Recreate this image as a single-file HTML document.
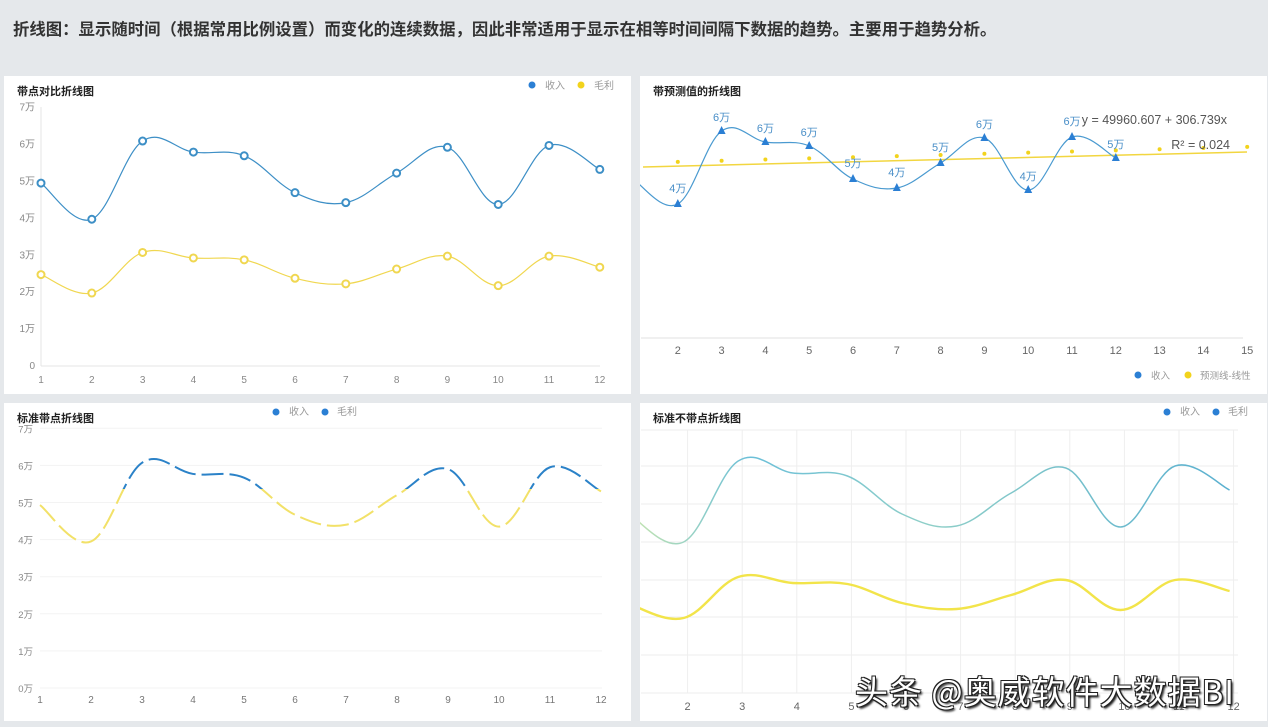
<!DOCTYPE html>
<html><head><meta charset="utf-8"><style>
body{margin:0;width:1268px;height:727px;background:#e5e8eb;overflow:hidden;font-family:"Liberation Sans","Noto Sans CJK SC",sans-serif;position:relative}
.h{position:absolute;left:13px;top:16px;font-size:16.4px;font-weight:bold;color:#333;white-space:nowrap;font-family:"Liberation Sans","Noto Sans CJK SC",sans-serif}
svg{position:absolute;left:0;top:0}
.wm{position:absolute;left:855px;top:666px;font-size:33px;letter-spacing:1px;color:#fff;white-space:nowrap;font-family:"Noto Sans CJK SC",sans-serif;text-shadow:1px 1px 0 #222,-1px -1px 0 #222,1px -1px 0 #222,-1px 1px 0 #222,2px 2px 2px #000}
</style></head><body>
<div class="h">折线图：显示随时间（根据常用比例设置）而变化的连续数据，因此非常适用于显示在相等时间间隔下数据的趋势。主要用于趋势分析。</div>
<svg id="s" width="1268" height="727" font-family="Liberation Sans, Noto Sans CJK SC, sans-serif"></svg>
<div class="wm">头条 @奥威软件大数据BI</div>
<script>
const s=document.getElementById('s');let h='';
function smooth(p){let d='M'+p[0][0]+','+p[0][1];for(let i=0;i<p.length-1;i++){const p0=p[i-1]||p[i],p1=p[i],p2=p[i+1],p3=p[i+2]||p2;const t=0.18;d+=` C${p1[0]+(p2[0]-p0[0])*t},${p1[1]+(p2[1]-p0[1])*t} ${p2[0]-(p3[0]-p1[0])*t},${p2[1]-(p3[1]-p1[1])*t} ${p2[0]},${p2[1]}`;}return d;}
function txt(x,y,t,sz,col,anc,w){h+=`<text x="${x}" y="${y}" font-size="${sz}" fill="${col}" text-anchor="${anc||'start'}" ${w?'font-weight="bold"':''}>${t}</text>`;}
[[4,76],[640,76],[4,403],[640,403]].forEach(([x,y])=>h+=`<rect x="${x}" y="${y}" width="627" height="318" fill="#fff"/>`);
const rev=[4.93,3.95,6.07,5.77,5.67,4.67,4.4,5.2,5.9,4.35,5.95,5.3];
const pro=[2.45,1.95,3.05,2.9,2.85,2.35,2.2,2.6,2.95,2.15,2.95,2.65];
txt(17,95,'带点对比折线图',11,'#222','start',1);
h+=`<circle cx="532" cy="85" r="3.5" fill="#2b7fd4"/>`;txt(545,89,'收入',10,'#999');
h+=`<circle cx="581" cy="85" r="3.5" fill="#f2d31c"/>`;txt(594,89,'毛利',10,'#999');
h+=`<line x1="41" y1="107" x2="41" y2="366" stroke="#e4e4e4"/><line x1="41" y1="366" x2="600" y2="366" stroke="#e4e4e4"/>`;
for(let i=0;i<=7;i++)txt(35,369-i*36.9,i?i+'万':'0',10,'#888','end');
let X1=i=>41+i*50.8,Y1=v=>365-v*36.9;
for(let i=0;i<12;i++)txt(X1(i),383,i+1,10,'#888','middle');
[[rev,'#3d8fc6'],[pro,'#f0d750']].forEach(([d,c])=>{const p=d.map((v,i)=>[X1(i),Y1(v)]);h+=`<path d="${smooth(p)}" fill="none" stroke="${c}" stroke-width="1.2"/>`;p.forEach(q=>h+=`<circle cx="${q[0]}" cy="${q[1]}" r="3.5" fill="#fff" stroke="${c}" stroke-width="2"/>`);});
txt(653,95,'带预测值的折线图',11,'#222','start',1);
let X2=i=>634+i*43.8;
const r2=[180,204,131,142,146,179,188,163,138,190,137,158];
h+=`<defs><clipPath id="c2"><rect x="640" y="76" width="627" height="318"/></clipPath><clipPath id="c3"><rect x="0" y="0" width="1268" height="489"/></clipPath><clipPath id="c4"><rect x="0" y="489" width="1268" height="300"/></clipPath><clipPath id="c5"><rect x="640" y="403" width="627" height="318"/></clipPath><linearGradient id="g4" x1="0" x2="1"><stop offset="0" stop-color="#c8e6b0"/><stop offset="0.2" stop-color="#6bbfd8"/><stop offset="0.5" stop-color="#8fcfc8"/><stop offset="1" stop-color="#5ab0d0"/></linearGradient></defs>`;
h+=`<line x1="643" y1="167" x2="1247" y2="152" stroke="#f2d640" stroke-width="1.5"/>`;
for(let i=1;i<15;i++){const x=X2(i);const y=163-i*1.15;h+=`<circle cx="${x}" cy="${y}" r="2" fill="#f2d31c"/>`;}
h+=`<path clip-path="url(#c2)" d="${smooth(r2.map((y,i)=>[X2(i),y]))}" fill="none" stroke="#4a9ad0" stroke-width="1.2"/>`;
const lb=['','4万','6万','6万','6万','5万','4万','5万','6万','4万','6万','5万'];
for(let i=1;i<12;i++){const x=X2(i),y=r2[i];h+=`<polygon points="${x},${y-5} ${x-4},${y+3} ${x+4},${y+3}" fill="#2b7fd4"/>`;const ly=(i==1||i==6||i==7||i==10||i==5)?y-12:y-10;txt(x,ly,lb[i],11,'#4a8fc8','middle');}
txt(1227,124,'y = 49960.607 + 306.739x',12.5,'#555','end');txt(1230,149,'R² = 0.024',12.5,'#555','end');
h+=`<line x1="641" y1="338" x2="1243" y2="338" stroke="#e0e0e0"/>`;
for(let i=1;i<15;i++)txt(X2(i),354,i+1,11,'#666','middle');
h+=`<circle cx="1138" cy="375" r="3.5" fill="#2b7fd4"/>`;txt(1151,379,'收入',9.5,'#999');
h+=`<circle cx="1188" cy="375" r="3.5" fill="#f2d31c"/>`;txt(1200,379,'预测线-线性',9.5,'#999');
txt(17,422,'标准带点折线图',11,'#222','start',1);
h+=`<circle cx="276" cy="412" r="3.5" fill="#2b7fd4"/>`;txt(289,415,'收入',10,'#999');
h+=`<circle cx="325" cy="412" r="3.5" fill="#2b7fd4"/>`;txt(337,415,'毛利',10,'#999');
let Y3=v=>688-v*37.1,X3=i=>40+i*51;
for(let i=0;i<=7;i++){h+=`<line x1="40" y1="${Y3(i)}" x2="602" y2="${Y3(i)}" stroke="#f3f3f3"/>`;txt(33,Y3(i)+4,i+'万',9.5,'#888','end');}
for(let i=0;i<12;i++)txt(X3(i),703,i+1,10,'#777','middle');
const p3=smooth(rev.map((v,i)=>[X3(i),Y3(v)]));
h+=`<path clip-path="url(#c3)" d="${p3}" fill="none" stroke="#2b82c8" stroke-width="2" stroke-dasharray="22,6"/>`;
h+=`<path clip-path="url(#c4)" d="${p3}" fill="none" stroke="#f2e168" stroke-width="2" stroke-dasharray="22,6"/>`;
txt(653,422,'标准不带点折线图',11,'#222','start',1);
h+=`<circle cx="1167" cy="412" r="3.5" fill="#2b7fd4"/>`;txt(1180,415,'收入',10,'#999');
h+=`<circle cx="1216" cy="412" r="3.5" fill="#2b7fd4"/>`;txt(1228,415,'毛利',10,'#999');
let X4=i=>633+i*54.6;
[430,466,504,542,580,617,655,693].forEach(y=>h+=`<line x1="641" y1="${y}" x2="1238" y2="${y}" stroke="#eeeeee"/>`);
for(let i=1;i<12;i++){h+=`<line x1="${X4(i)}" y1="430" x2="${X4(i)}" y2="693" stroke="#eeeeee"/>`;txt(X4(i),710,i+1,11,'#666','middle');}
const r4=[514,542,461,473,476,514,526,493,468,527,466,490],q4=[604,618,577,583,584,603,609,595,580,610,580,591];
h+=`<path clip-path="url(#c5)" d="${smooth(r4.map((y,i)=>[X4(i)-4,y]))}" fill="none" stroke="url(#g4)" stroke-width="1.5"/>`;
h+=`<path clip-path="url(#c5)" d="${smooth(q4.map((y,i)=>[X4(i)-4,y]))}" fill="none" stroke="#f2e44a" stroke-width="2.4"/>`;
s.innerHTML=h;
</script>
</body></html>
